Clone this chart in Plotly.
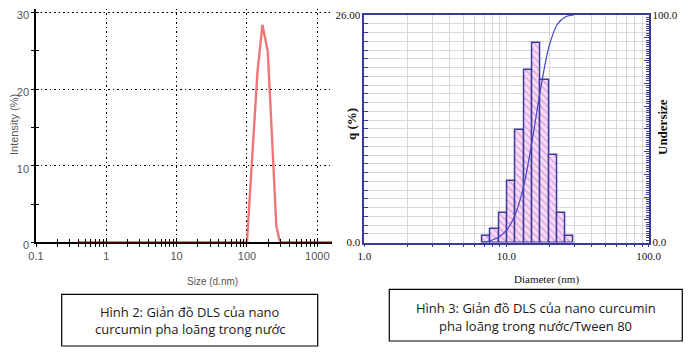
import numpy as np
import plotly.graph_objects as go

W, H = 697, 360
OFF = 8  # browser body margin offsets the plot div

# ---------------- Figure 2 : DLS intensity distribution ----------------
size_nm = [0.4, 100, 141, 166, 198, 262, 296, 1620]
intensity_pct = [0, 0, 22.2, 28.4, 24.9, 2.1, 0, 0]
left_x_major = [0.1, 1, 10, 100, 1000]
left_x_major_text = ["0.1", "1", "10", "100", "1000"]
left_x_minor = [m * 10 ** e for e in range(-1, 4) for m in range(2, 10) if m * 10 ** e < 1620]
left_y_major = [0, 10, 20, 30]
left_y_major_text = ["0", "10", "20", "30"]
left_y_minor = [5, 15, 25]

# ---------------- Figure 3 : particle size histogram ----------------
bin_edges_nm = [6.76, 7.73, 8.85, 10.1, 11.6, 13.3, 15.2, 17.4, 19.9, 22.8, 26.1, 29.8]
q_pct = [0.8, 1.6, 3.35, 7.0, 12.9, 19.7, 22.85, 18.6, 10.0, 3.4, 0.8]
right_x_ticks = [1, 2, 3, 4, 5, 6, 7, 8, 9, 10, 20, 30, 40, 50, 60, 70, 80, 90, 100]
right_x_text = ["1.0", "", "", "", "", "", "", "", "", "10.0", "", "", "", "", "", "", "", "", "100.0"]
q_ticks = list(range(0, 27))
q_text = ["0.0"] + [""] * 25 + ["26.00"]
und_ticks = list(range(0, 101, 10))
und_text = ["0.0"] + [""] * 9 + ["100.0"]

captions_left = ["Hình 2: Giản đồ DLS của nano", "curcumin pha loãng trong nước"]
captions_right = ["Hình 3: Giản đồ DLS của nano curcumin", "pha loãng trong nước/Tween 80"]


def px(x):
    return (x - OFF) / W


def py(y):
    return 1 - (y - OFF) / H


NAVY = "#3a3a9c"
GRAY_TXT = "#555555"
NARROW = "Liberation Sans Narrow, Liberation Sans, Arial, sans-serif"
SERIF = "Liberation Serif, Times New Roman, serif"
CAP_FONT = "Open Sans, Noto Sans, sans-serif"
GRID_DASH = "1.5px,3px"

lxr = [-1, np.log10(1620)]
lyr = [0, 30.5]

fig = go.Figure()

# top dotted grid line of the left chart (at the highest y tick)
fig.add_trace(go.Scatter(
    x=[10 ** lxr[0], 10 ** lxr[1]], y=[left_y_major[-1]] * 2, mode="lines",
    line=dict(color="black", width=1, dash=GRID_DASH),
    xaxis="x", yaxis="y", showlegend=False, hoverinfo="skip"))

# Left chart trace
fig.add_trace(go.Scatter(
    x=size_nm, y=intensity_pct, mode="lines",
    line=dict(color="rgba(232,60,60,0.7)", width=2.4),
    xaxis="x", yaxis="y", showlegend=False, hoverinfo="skip"))

# Right chart bars (on a log10-scaled linear axis)
le = np.log10(np.array(bin_edges_nm))
centers = (le[:-1] + le[1:]) / 2
widths = le[1:] - le[:-1]
fig.add_trace(go.Bar(
    x=centers, y=q_pct, width=widths,
    marker=dict(color="#f7dcf5", line=dict(color=NAVY, width=1.5),
                pattern=dict(shape="\\", fgcolor="#c255c8", bgcolor="#f7dcf5", size=5, solidity=0.25)),
    xaxis="x2", yaxis="y2", showlegend=False, hoverinfo="skip"))

q = np.array(q_pct)
undersize = np.concatenate([[0], np.cumsum(q) / q.sum() * 100])
fig.add_trace(go.Scatter(
    x=le, y=undersize, mode="lines", line=dict(color="#4646c8", width=1.2, shape="spline", smoothing=0.8),
    xaxis="x2", yaxis="y4", showlegend=False, hoverinfo="skip"))

# invisible trace for overlay axes
fig.add_trace(go.Scatter(x=[1], y=[0], mode="markers", marker=dict(opacity=0), xaxis="x5", yaxis="y5",
                         showlegend=False, hoverinfo="skip"))

LX = [px(36), px(332)]
LY = [py(242.3), py(8.7)]
RX = [px(364.3), px(648.5)]
RY = [py(242.5), py(15)]

tick_font_l = dict(family=NARROW, size=11, color=GRAY_TXT)
tick_font_r = dict(family=SERIF, size=11, color="#111111")

fig.update_layout(
    width=W, height=H, margin=dict(l=0, r=0, t=0, b=0, autoexpand=False),
    paper_bgcolor="white", plot_bgcolor="rgba(0,0,0,0)",
    bargap=0,
    xaxis=dict(domain=LX, type="log", range=lxr, anchor="y", automargin=False,
               tickvals=left_x_major, ticktext=left_x_major_text, tickfont=tick_font_l,
               ticks="outside", ticklen=3, tickcolor="black", tickwidth=1, ticklabeloverflow="allow",
               minor=dict(tickvals=left_x_minor, ticks="outside", ticklen=3, tickcolor="black", showgrid=False),
               showgrid=True, gridcolor="black", griddash=GRID_DASH, gridwidth=1,
               showline=True, linecolor="black", linewidth=1.5, zeroline=False, layer="below traces"),
    yaxis=dict(domain=LY, range=lyr, anchor="x", automargin=False,
               tickvals=left_y_major, ticktext=left_y_major_text, tickfont=tick_font_l,
               ticks="outside", ticklen=3, tickcolor="black", ticklabeloverflow="allow",
               ticklabelshift=3,
               minor=dict(tickvals=left_y_minor, ticks="outside", ticklen=3, tickcolor="black", showgrid=False),
               showgrid=True, gridcolor="black", griddash=GRID_DASH, gridwidth=1,
               showline=True, linecolor="black", linewidth=1.5, zeroline=False),
    xaxis5=dict(overlaying="x", type="log", range=lxr, anchor="y5", automargin=False,
                tickvals=left_x_major + left_x_minor, ticks="inside", ticklen=3, tickcolor="black",
                showticklabels=False, showgrid=False, showline=False, zeroline=False),
    yaxis5=dict(overlaying="y", range=lyr, anchor="x5", automargin=False,
                tickvals=left_y_major + left_y_minor, ticks="inside", ticklen=3, tickcolor="black",
                showticklabels=False, showgrid=False, showline=False, zeroline=False),
    xaxis2=dict(domain=RX, range=[0, 2], anchor="y2", automargin=False,
                tickvals=np.log10(right_x_ticks), ticktext=right_x_text, tickfont=tick_font_r,
                ticks="outside", ticklen=3, tickcolor=NAVY, ticklabeloverflow="allow",
                showgrid=True, gridcolor="#d6d6d6", gridwidth=1,
                showline=True, linecolor=NAVY, linewidth=1.5, mirror=True, zeroline=False),
    yaxis2=dict(domain=RY, range=[0, 26], anchor="x2", automargin=False,
                tickvals=q_ticks, ticktext=q_text, tickfont=tick_font_r,
                ticks="inside", ticklen=4, tickcolor=NAVY, ticklabeloverflow="allow",
                showgrid=True, gridcolor="#d9d9d9", gridwidth=1,
                showline=True, linecolor=NAVY, linewidth=1.5, zeroline=False),
    yaxis4=dict(overlaying="y2", side="right", range=[0, 100], anchor="x2", automargin=False,
                tickvals=und_ticks, ticktext=und_text, tickfont=tick_font_r,
                ticks="inside", ticklen=5, tickcolor=NAVY, ticklabeloverflow="allow",
                minor=dict(dtick=1, ticks="inside", ticklen=3, tickcolor=NAVY, showgrid=False),
                showgrid=False, showline=True, linecolor=NAVY, linewidth=1.5, zeroline=False),
)

ann = []
# axis titles
ann.append(dict(text="Intensity (%)", x=px(14), y=py(125), textangle=-90,
                font=dict(family=NARROW, size=11, color=GRAY_TXT)))
ann.append(dict(text="Size (d.nm)", x=px(212), y=py(281),
                font=dict(family=NARROW, size=10, color=GRAY_TXT)))
ann.append(dict(text="<b>q (%)</b>", x=px(352), y=py(124), textangle=-90,
                font=dict(family=SERIF, size=13, color="#111111")))
ann.append(dict(text="<b>Undersize</b>", x=px(663), y=py(127), textangle=-90,
                font=dict(family=SERIF, size=13, color="#111111")))
ann.append(dict(text="Diameter (nm)", x=px(546.7), y=py(279),
                font=dict(family=SERIF, size=11, color="#111111")))
# captions
for i, t in enumerate(captions_left):
    ann.append(dict(text=t, x=px(190), y=py(311.7 + i * 17.5),
                    font=dict(family=CAP_FONT, size=13, color="#1a1a1a")))
for i, t in enumerate(captions_right):
    ann.append(dict(text=t, x=px(535.8), y=py(307.7 + i * 18.3),
                    font=dict(family=CAP_FONT, size=13, color="#1a1a1a")))
for a in ann:
    a.update(xref="paper", yref="paper", showarrow=False, xanchor="center", yanchor="middle")
fig.update_layout(annotations=ann)

fig.update_layout(shapes=[
    dict(type="rect", xref="paper", yref="paper", x0=px(61.7), x1=px(317.7), y0=py(346), y1=py(294.3),
         line=dict(color="black", width=1.2)),
    dict(type="rect", xref="paper", yref="paper", x0=px(389.3), x1=px(682.3), y0=py(341), y1=py(289.3),
         line=dict(color="black", width=1.2)),
])

fig.write_html("out.html")
